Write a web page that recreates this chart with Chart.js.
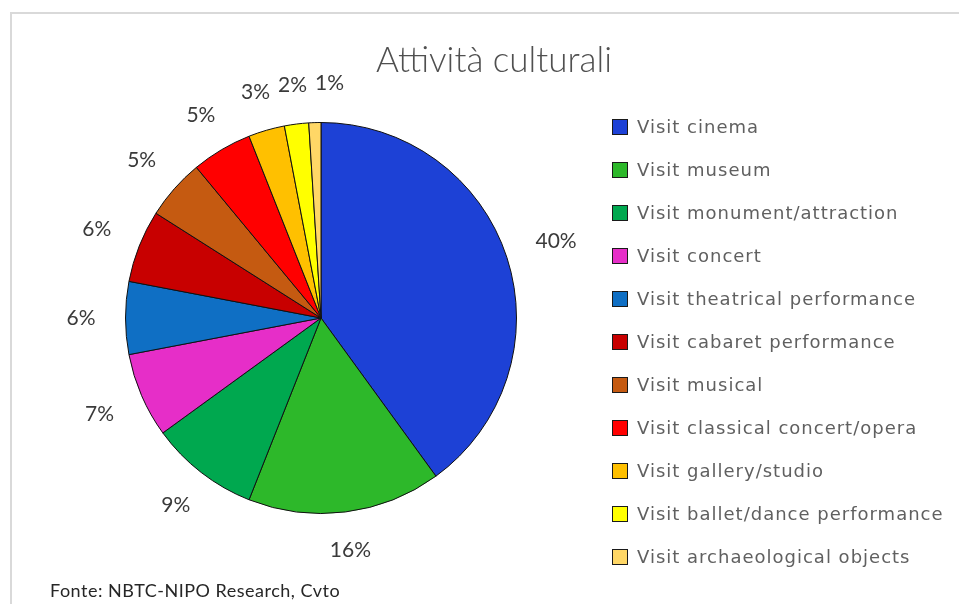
<!DOCTYPE html>
<html>
<head>
<meta charset="utf-8">
<script src="https://cdn.jsdelivr.net/npm/chart.js@4"></script>
<style>
  html, body { margin: 0; padding: 0; background: #ffffff; }
  #wrap { width: 959px; height: 604px; }
</style>
</head>
<body>
<div id="wrap"><canvas id="c" width="959" height="604"></canvas></div>
<script>
const titleText = "Attività culturali";
const sourceText = "Fonte: NBTC-NIPO Research, Cvto";
const categories = [
  "Visit cinema",
  "Visit museum",
  "Visit monument/attraction",
  "Visit concert",
  "Visit theatrical performance",
  "Visit cabaret performance",
  "Visit musical",
  "Visit classical concert/opera",
  "Visit gallery/studio",
  "Visit ballet/dance performance",
  "Visit archaeological objects"
];
const shares = [40, 16, 9, 7, 6, 6, 5, 5, 3, 2, 1];
const sliceColors = [
  "#1d41d6", "#2db82a", "#00a84f", "#e62ec8", "#0f6fc4",
  "#c80000", "#c55a11", "#ff0000", "#ffc000", "#ffff00", "#ffd766"
];

const decorPlugin = {
  id: "decor",
  beforeDraw(chart) {
    const ctx = chart.ctx;
    ctx.save();
    ctx.fillStyle = "#ffffff";
    ctx.fillRect(0, 0, chart.width, chart.height);
    ctx.strokeStyle = "#d9d9d9";
    ctx.lineWidth = 2;
    ctx.strokeRect(11, 13, 1000, 700);
    // title
    ctx.fillStyle = "#505050";
    ctx.font = "300 35px Lato";
    ctx.textAlign = "center";
    ctx.textBaseline = "alphabetic";
    ctx.fillText(titleText, 494, 72);
    // source
    ctx.fillStyle = "#262626";
    ctx.font = "18px Lato";
    try { ctx.letterSpacing = "0.5px"; } catch (e) {}
    ctx.textAlign = "left";
    ctx.fillText(sourceText, 50, 597);
    ctx.restore();
  },
  afterDatasetsDraw(chart) {
    const ctx = chart.ctx;
    const meta = chart.getDatasetMeta(0);
    const ds = chart.data.datasets[0];
    ctx.save();
    // data labels
    ctx.font = "21px Lato";
    ctx.fillStyle = "#3a3a3a";
    ctx.textAlign = "center";
    ctx.textBaseline = "middle";
    const gap = 30, hh = 9;
    let prev = null;
    meta.data.forEach((arc, i) => {
      const p = arc.getProps(["x", "y", "startAngle", "endAngle", "outerRadius"], true);
      const mid = (p.startAngle + p.endAngle) / 2;
      const dx = Math.cos(mid), dy = Math.sin(mid);
      const txt = ds.data[i] + "%";
      const w = ctx.measureText(txt).width;
      const ex = Math.abs(dx) > 1e-6 ? (w / 2) / Math.abs(dx) : Infinity;
      const ey = Math.abs(dy) > 1e-6 ? hh / Math.abs(dy) : Infinity;
      const d = p.outerRadius + gap + Math.min(ex, ey);
      let lx = p.x + dx * d;
      let ly = p.y + dy * d;
      if (prev && Math.abs(ly - prev.y) < 2 * hh && lx - w / 2 < prev.x + prev.w / 2 + 8 && lx > prev.x) {
        lx = prev.x + prev.w / 2 + 8 + w / 2;
      }
      ctx.fillText(txt, lx, ly);
      prev = { x: lx, y: ly, w: w };
    });
    // legend
    ctx.font = "18px 'DejaVu Sans'";
    ctx.textAlign = "left";
    ctx.textBaseline = "middle";
    try { ctx.letterSpacing = "1px"; } catch (e) {}
    chart.data.labels.forEach((lab, i) => {
      const cy = 127 + i * 43;
      ctx.fillStyle = ds.backgroundColor[i];
      ctx.fillRect(612.5, cy - 7.5, 15, 15);
      ctx.strokeStyle = "#1a1a1a";
      ctx.lineWidth = 1;
      ctx.strokeRect(612.5, cy - 7.5, 15, 15);
      ctx.fillStyle = "#606060";
      ctx.fillText(lab, 637, cy + 1);
    });
    ctx.restore();
  }
};

new Chart(document.getElementById("c"), {
  type: "pie",
  data: {
    labels: categories,
    datasets: [{
      data: shares,
      backgroundColor: sliceColors,
      borderColor: "#111111",
      borderWidth: 1,
      hoverOffset: 0
    }]
  },
  options: {
    responsive: false,
    animation: false,
    layout: { padding: { left: 125, top: 122, right: 442, bottom: 90 } },
    plugins: {
      legend: { display: false },
      title: { display: false },
      tooltip: { enabled: false }
    }
  },
  plugins: [decorPlugin]
});
</script>
</body>
</html>
